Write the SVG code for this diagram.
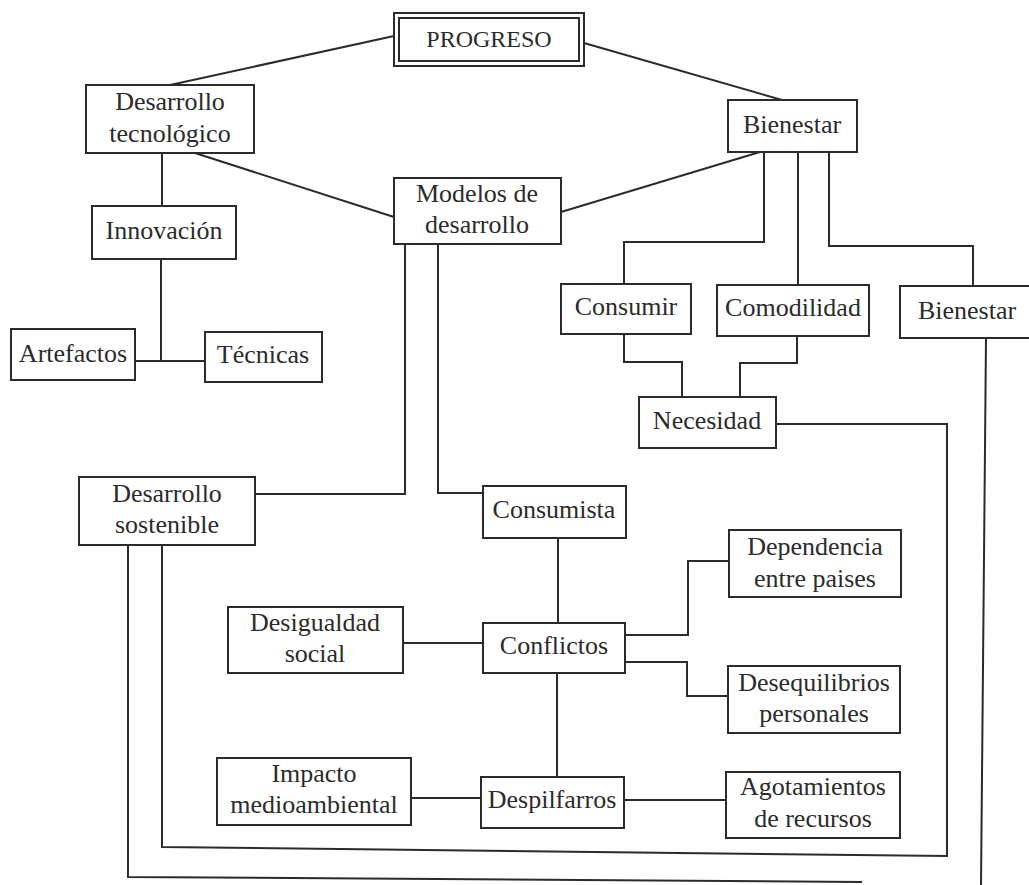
<svg xmlns="http://www.w3.org/2000/svg" width="1029" height="885" viewBox="0 0 1029 885">
<style>
.box{fill:#ffffff;stroke:#2b2b2b;stroke-width:2}
.t{font-family:"Liberation Serif","Times New Roman",serif;font-size:26px;fill:#2b2b2b;text-anchor:middle}
.c{fill:none;stroke:#2b2b2b;stroke-width:2}
</style>
<rect width="1029" height="885" fill="#ffffff"/>
<g id="connectors">
<path class="c" d="M394,36 L170,85"/>
<path class="c" d="M584,43 L782,100"/>
<path class="c" d="M195,153 L394,217"/>
<path class="c" d="M561,212 L760,152"/>
<path class="c" d="M162,153 V206"/>
<path class="c" d="M161,259 V361"/>
<path class="c" d="M135,361 H205"/>
<path class="c" d="M764,152 V242 H624 V284"/>
<path class="c" d="M798,152 V285"/>
<path class="c" d="M829,152 V246 H973 V286"/>
<path class="c" d="M624,334 V362 H682 V397"/>
<path class="c" d="M797,336 V363 H740 V397"/>
<path class="c" d="M776,424 H947 V856 L162,847 V545"/>
<path class="c" d="M128,545 V877 L862,882"/>
<path class="c" d="M986,338 L981,885"/>
<path class="c" d="M405,244 V494 H255"/>
<path class="c" d="M438,244 V493 H483"/>
<path class="c" d="M558,538 V623"/>
<path class="c" d="M403,643 H483"/>
<path class="c" d="M625,635 H688 V561 H729"/>
<path class="c" d="M625,662 H687 V696 H728"/>
<path class="c" d="M557,673 V777"/>
<path class="c" d="M411,798 H481"/>
<path class="c" d="M624,800 H726"/>
</g>
<g id="progreso">
<rect class="box" x="394" y="13" width="190" height="53"/>
<rect class="box" x="399" y="18" width="180" height="43"/>
<text class="t" x="489" y="47" style="font-size:24px">PROGRESO</text>
</g>
<g id="desarrollo-tecnologico">
<rect class="box" x="86" y="85" width="168" height="68"/>
<text class="t" x="170" y="110">Desarrollo</text>
<text class="t" x="170" y="142">tecnológico</text>
</g>
<g id="innovacion">
<rect class="box" x="92" y="206" width="144" height="53"/>
<text class="t" x="164" y="239">Innovación</text>
</g>
<g id="artefactos">
<rect class="box" x="11" y="329" width="124" height="51"/>
<text class="t" x="73" y="362">Artefactos</text>
</g>
<g id="tecnicas">
<rect class="box" x="205" y="332" width="117" height="50"/>
<text class="t" x="263" y="363">Técnicas</text>
</g>
<g id="modelos">
<rect class="box" x="394" y="178" width="167" height="66"/>
<text class="t" x="477" y="202">Modelos de</text>
<text class="t" x="477" y="233">desarrollo</text>
</g>
<g id="bienestar">
<rect class="box" x="728" y="100" width="129" height="52"/>
<text class="t" x="792" y="133">Bienestar</text>
</g>
<g id="consumir">
<rect class="box" x="561" y="284" width="130" height="50"/>
<text class="t" x="626" y="315">Consumir</text>
</g>
<g id="comodilidad">
<rect class="box" x="717" y="285" width="152" height="51"/>
<text class="t" x="793" y="316">Comodilidad</text>
</g>
<g id="bienestar2">
<rect class="box" x="900" y="286" width="135" height="52"/>
<text class="t" x="967" y="319">Bienestar</text>
</g>
<g id="necesidad">
<rect class="box" x="639" y="397" width="137" height="51"/>
<text class="t" x="707" y="429">Necesidad</text>
</g>
<g id="desarrollo-sostenible">
<rect class="box" x="79" y="477" width="176" height="68"/>
<text class="t" x="167" y="502">Desarrollo</text>
<text class="t" x="167" y="533">sostenible</text>
</g>
<g id="consumista">
<rect class="box" x="483" y="486" width="143" height="52"/>
<text class="t" x="554" y="518">Consumista</text>
</g>
<g id="dependencia">
<rect class="box" x="729" y="530" width="172" height="67"/>
<text class="t" x="815" y="555">Dependencia</text>
<text class="t" x="815" y="587">entre paises</text>
</g>
<g id="desigualdad">
<rect class="box" x="228" y="607" width="175" height="66"/>
<text class="t" x="315" y="631">Desigualdad</text>
<text class="t" x="315" y="662">social</text>
</g>
<g id="conflictos">
<rect class="box" x="483" y="623" width="142" height="50"/>
<text class="t" x="554" y="654">Conflictos</text>
</g>
<g id="desequilibrios">
<rect class="box" x="728" y="666" width="172" height="67"/>
<text class="t" x="814" y="691">Desequilibrios</text>
<text class="t" x="814" y="722">personales</text>
</g>
<g id="impacto">
<rect class="box" x="217" y="758" width="194" height="67"/>
<text class="t" x="314" y="782">Impacto</text>
<text class="t" x="314" y="813">medioambiental</text>
</g>
<g id="despilfarros">
<rect class="box" x="481" y="777" width="143" height="51"/>
<text class="t" x="552" y="808">Despilfarros</text>
</g>
<g id="agotamientos">
<rect class="box" x="726" y="772" width="174" height="66"/>
<text class="t" x="813" y="795">Agotamientos</text>
<text class="t" x="813" y="827">de recursos</text>
</g>
</svg>
